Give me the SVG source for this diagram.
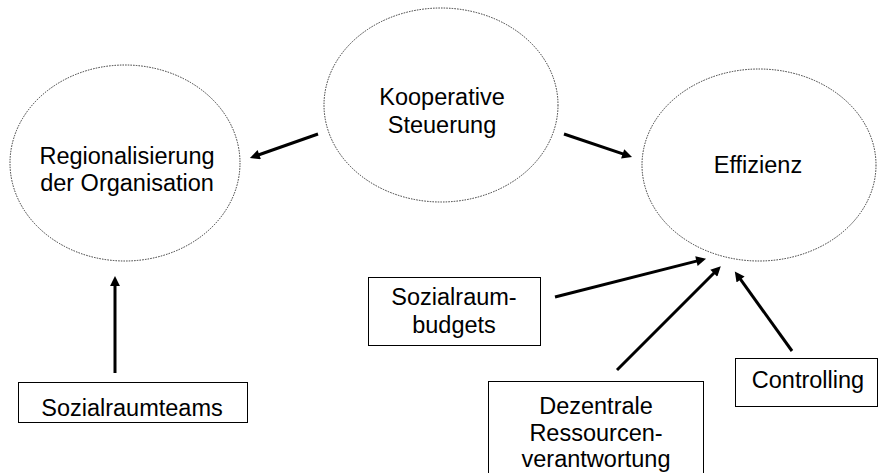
<svg xmlns="http://www.w3.org/2000/svg" width="879" height="473" viewBox="0 0 879 473">
<style>
.ell{fill:none;stroke:#333;stroke-width:1;stroke-dasharray:1.5 1.2}
.box{fill:#fff;stroke:#000;stroke-width:1}
.t{font-family:"Liberation Sans",Arial,sans-serif;font-size:23.5px;fill:#000;text-anchor:middle}
.arr{stroke:#000;stroke-width:3;fill:none;marker-end:url(#ah)}
</style>
<defs>
<marker id="ah" viewBox="0 0 10 10" refX="1" refY="5" markerWidth="4.5" markerHeight="3.3" orient="auto" markerUnits="strokeWidth">
<path d="M0,0 L10,5 L0,10 z" fill="#000"/>
</marker>
</defs>
<rect width="879" height="473" fill="#fff"/>
<g id="regionalisierung">
<ellipse class="ell" cx="125" cy="163" rx="115" ry="98"/>
<text class="t" x="127" y="164">Regionalisierung</text>
<text class="t" x="127" y="191">der Organisation</text>
</g>
<g id="kooperative">
<ellipse class="ell" cx="441" cy="105" rx="117" ry="97"/>
<text class="t" x="442" y="105">Kooperative</text>
<text class="t" x="442" y="133">Steuerung</text>
</g>
<g id="effizienz">
<ellipse class="ell" cx="759" cy="165" rx="117" ry="96"/>
<text class="t" x="758" y="173">Effizienz</text>
</g>
<g id="sozialraumteams">
<rect class="box" x="18.5" y="382.5" width="229" height="40"/>
<text class="t" x="132" y="416">Sozialraumteams</text>
</g>
<g id="sozialraumbudgets">
<rect class="box" x="368.5" y="277.5" width="172" height="68"/>
<text class="t" x="454" y="305">Sozialraum-</text>
<text class="t" x="454" y="333">budgets</text>
</g>
<g id="dezentrale">
<rect class="box" x="488.5" y="381.5" width="215" height="100"/>
<text class="t" x="596" y="414">Dezentrale</text>
<text class="t" x="596" y="441">Ressourcen-</text>
<text class="t" x="596" y="467">verantwortung</text>
</g>
<g id="controlling">
<rect class="box" x="735.5" y="358.5" width="142" height="48"/>
<text class="t" x="808" y="388">Controlling</text>
</g>
<g id="connectors">
<line class="arr" x1="318" y1="134" x2="258.3" y2="155"/>
<line class="arr" x1="564" y1="134" x2="623.6" y2="154.2"/>
<line class="arr" x1="555" y1="297" x2="697.4" y2="260.9"/>
<line class="arr" x1="617" y1="370" x2="714.5" y2="272.5"/>
<line class="arr" x1="792" y1="351" x2="740" y2="278.7"/>
<line class="arr" x1="115" y1="373" x2="115" y2="285"/>
</g>
</svg>
